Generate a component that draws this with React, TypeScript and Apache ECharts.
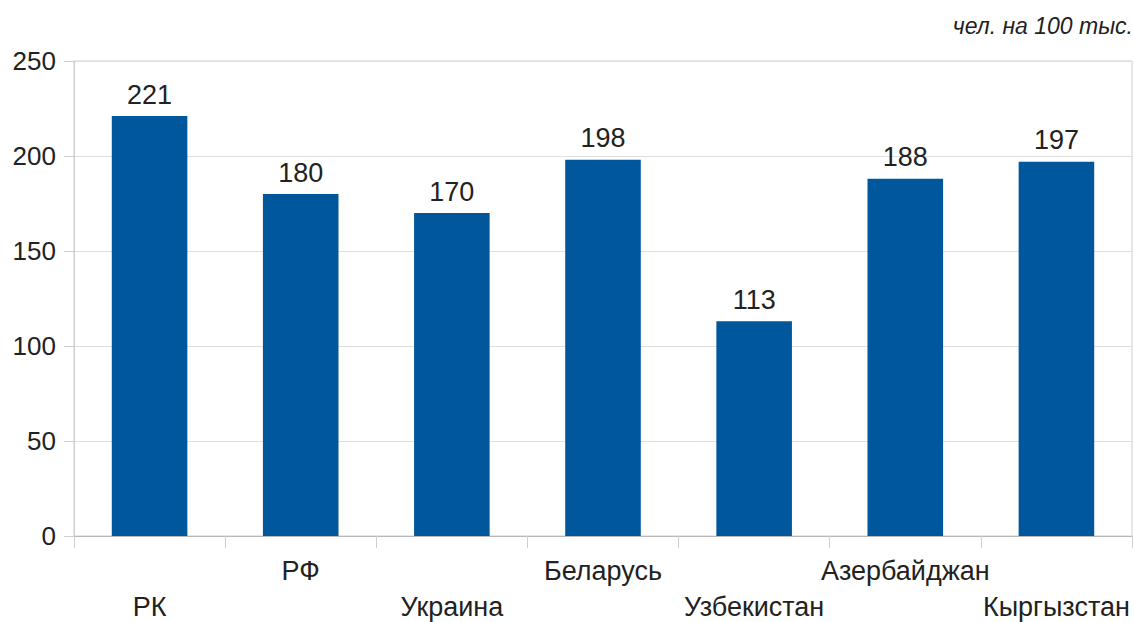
import React, { useEffect, useRef } from "react";
import * as echarts from "echarts";

const categories = ["РК", "РФ", "Украина", "Беларусь", "Узбекистан", "Азербайджан", "Кыргызстан"];
const values = [221, 180, 170, 198, 113, 188, 197];
const unitLabel = "чел. на 100 тыс.";

export default function App() {
  const ref = useRef<HTMLDivElement>(null);
  useEffect(() => {
    document.body.style.margin = "0";
    const chart = echarts.init(ref.current!, null, { renderer: "svg" });
    const font = "'Liberation Sans', Arial, sans-serif";
    chart.setOption({
      animation: false,
      textStyle: { fontFamily: font },
      graphic: [
        {
          type: "text",
          right: 1,
          top: 14,
          style: {
            text: unitLabel,
            font: `italic 23px ${font}`,
            fill: "#222",
          },
        },
      ],
      grid: {
        left: 74,
        right: 2,
        top: 61,
        bottom: 86,
        show: true,
        borderColor: "#cfcfcf",
        borderWidth: 1,
      },
      xAxis: {
        type: "category",
        data: categories,
        axisLine: { lineStyle: { color: "#b8b8b8" } },
        axisTick: { show: true, length: 12, lineStyle: { color: "#cfcfcf" } },
        axisLabel: {
          interval: 0,
          margin: 21,
          color: "#222",
          fontSize: 27,
          fontFamily: font,
          formatter: (v: string, i: number) => (i % 2 === 0 ? `{b|${v}}` : `{a|${v}}`),
          rich: {
            a: { fontSize: 27, fontFamily: font, color: "#222", padding: [0, 0, 0, 0] },
            b: { fontSize: 27, fontFamily: font, color: "#222", padding: [36, 0, 0, 0] },
          },
        },
      },
      yAxis: {
        type: "value",
        min: 0,
        max: 250,
        interval: 50,
        axisLine: { show: true, lineStyle: { color: "#cfcfcf" } },
        axisTick: { show: true, length: 10, lineStyle: { color: "#cfcfcf" } },
        splitLine: { lineStyle: { color: "#dedede" } },
        axisLabel: { color: "#222", fontSize: 26, fontFamily: font, margin: 18 },
      },
      series: [
        {
          type: "bar",
          data: values,
          barWidth: "50%",
          itemStyle: { color: "#01579B" },
          label: {
            show: true,
            position: "top",
            distance: 8,
            color: "#222",
            fontSize: 27,
            fontFamily: font,
          },
        },
      ],
    });
    return () => chart.dispose();
  }, []);
  return <div ref={ref} style={{ width: 1134, height: 622 }} />;
}
